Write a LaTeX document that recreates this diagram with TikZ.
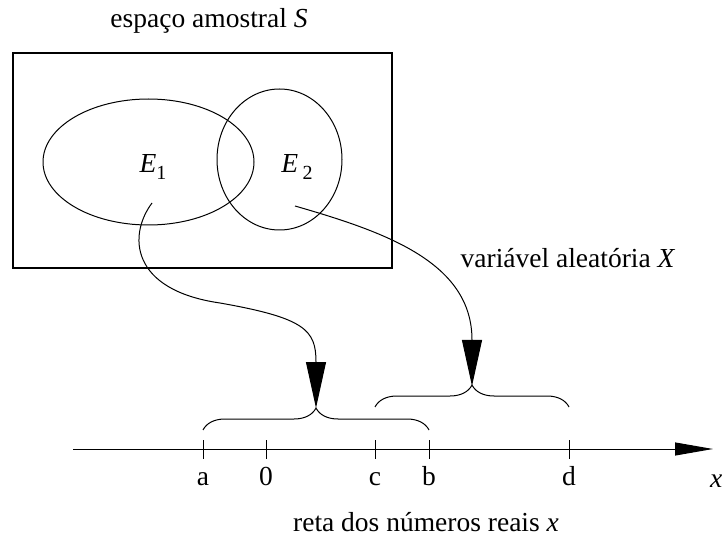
\documentclass[tikz,border=0pt]{standalone}
\usepackage{fontspec}
\setmainfont{Liberation Serif}
\usetikzlibrary{arrows.meta,decorations.pathreplacing,shapes.geometric}
\begin{document}
\begin{tikzpicture}[x=1pt,y=-1pt,
  txt/.style={inner sep=0pt,font=\fontsize{27.5}{33}\selectfont},
  thin1/.style={line width=1pt},
  bigarrow/.style={thin1,-{Triangle[length=46pt,width=20pt]}},
  bracestyle/.style={thin1,decorate,decoration={brace,amplitude=22pt}},
  tickstyle/.style={thin1}]
\useasboundingbox (0,0) rectangle (723,537);
% sample space
\node[txt,anchor=base] (title) at (209,28) {espaço amostral \textit{S}};
\draw[line width=2.5pt] (13,53) rectangle (392,268);
\node[draw,thin1,ellipse,minimum width=211pt,minimum height=126pt,inner sep=0pt] (e1) at (148.5,162) {};
\node[draw,thin1,ellipse,minimum width=125pt,minimum height=141pt,inner sep=0pt] (e2) at (279.5,159.5) {};
\node[txt,anchor=base] (l1) at (153,173) {\textit{E}\raisebox{-0.22em}{\fontsize{20}{20}\selectfont 1}};
\node[txt,anchor=base] (l2) at (297,173) {\textit{E}\,\raisebox{-0.22em}{\fontsize{20}{20}\selectfont 2}};
\coordinate (s1) at (152,203);
\coordinate (s2) at (295,206);
% axis
\coordinate (axl) at (73,449);
\coordinate (axr) at (713,449);
\draw[thin1,-{Triangle[length=38pt,width=13pt]}] (axl) -- (axr);
\node[txt,anchor=base west] (xl) at (710,487) {\textit{x}};
\foreach \n/\p/\t in {ta/203/a, t0/266/0, tc/375/c, tb/429/b, td/569/d}{
  \coordinate (\n) at (\p,449);
  \draw[tickstyle] (\p,440) -- (\p,459);
  \node[txt,anchor=base] (lab\n) at (\p,485) {\t};
}
\node[txt,anchor=base] (reta) at (426,531) {reta dos números reais \textit{x}};
% braces
\coordinate (b1l) at (203,430);
\coordinate (b1r) at (429,430);
\coordinate (b1t) at (316,408);
\coordinate (b2l) at (375,407);
\coordinate (b2r) at (569,407);
\coordinate (b2t) at (472,386);
\draw[bracestyle] (b1l) -- (b1r);
\draw[bracestyle] (b2l) -- (b2r);
% random variable arrows
\draw[bigarrow] (s1) .. controls (128,235) and (130,290) .. (220,303)
   .. controls (305,318) and (316,330) .. (316,362) -- (b1t);
\draw[bigarrow] (s2) .. controls (385,232) and (472,262) .. (472,340) -- (b2t);
\node[txt,anchor=base] (rv) at (568,268) {variável aleatória \textit{X}};
\end{tikzpicture}
\end{document}
